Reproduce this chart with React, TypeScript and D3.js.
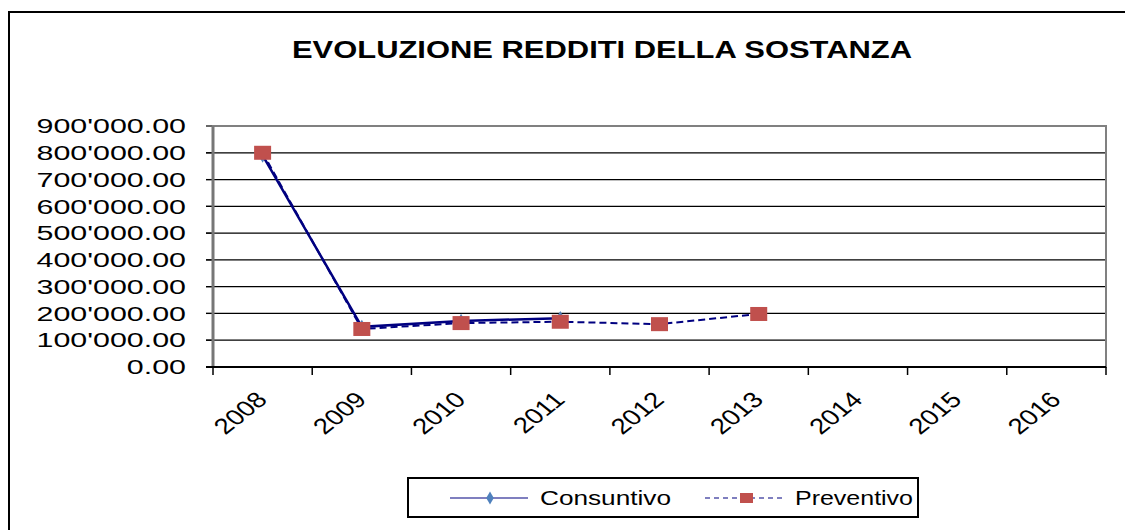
import * as d3 from "d3";

const years = ["2008", "2009", "2010", "2011", "2012", "2013", "2014", "2015", "2016"];
const consuntivo = [790000, 150000, 172000, 182000];
const preventivo = [800000, 142000, 164000, 169000, 160000, 198000];
const yTicks = [0, 100000, 200000, 300000, 400000, 500000, 600000, 700000, 800000, 900000];

const W = 1125;
const H = 530;
const font = "'Liberation Sans', Arial, sans-serif";
const navy = "#000080";

// 900'000.00 style
const fmt = (v: number) => {
  const s = d3.format(",.2f")(v);
  return s.replace(/,/g, "'");
};

export default function App() {
  const left = 213;
  const right = 1106;
  const top = 126;
  const bottom = 367;

  const x = d3.scaleBand<string>().domain(years).range([left, right]);
  const y = d3.scaleLinear().domain([0, 900000]).range([bottom, top]);
  const cx = (i: number) => (x(years[i]) as number) + x.bandwidth() / 2;

  const line = d3
    .line<number>()
    .x((_, i) => cx(i))
    .y((d) => y(d));

  const bounds = years.map((yr) => x(yr) as number).concat([right]);

  return (
    <svg
      width={W}
      height={H}
      style={{ position: "absolute", left: 0, top: 0, background: "#fff" }}
      fontFamily={font}
    >
      <rect x={0} y={0} width={W} height={H} fill="#fff" />
      {/* outer frame */}
      <rect x={9} y={12} width={W + 20} height={H + 20} fill="none" stroke="#000" strokeWidth={2} />

      {/* title */}
      <text
        x={292}
        y={58}
        fontSize={24}
        fontWeight="bold"
        textLength={620}
        lengthAdjust="spacingAndGlyphs"
      >
        EVOLUZIONE REDDITI DELLA SOSTANZA
      </text>

      {/* grid */}
      {yTicks.slice(1, -1).map((t) => (
        <line key={t} x1={206} x2={right} y1={y(t)} y2={y(t)} stroke="#000" strokeWidth={1.2} />
      ))}
      {yTicks.map((t) => (
        <line key={"t" + t} x1={206} x2={left} y1={y(t)} y2={y(t)} stroke="#000" strokeWidth={1.2} />
      ))}
      {/* plot border */}
      <rect
        x={left}
        y={top}
        width={right - left}
        height={bottom - top}
        fill="none"
        stroke="#808080"
        strokeWidth={2}
      />
      <line x1={left} x2={left} y1={top} y2={bottom} stroke="#777" strokeWidth={3} />
      <line x1={206} x2={right} y1={bottom} y2={bottom} stroke="#000" strokeWidth={2} />
      {bounds.map((b, i) => (
        <line key={"x" + i} x1={b} x2={b} y1={bottom} y2={375} stroke="#000" strokeWidth={1.5} />
      ))}

      {/* y labels */}
      {yTicks.map((t) => (
        <g key={"l" + t} transform={`translate(186,${y(t)}) scale(1.52,1)`}>
          <text textAnchor="end" dy="0.36em" fontSize={20}>
            {fmt(t)}
          </text>
        </g>
      ))}

      {/* x labels */}
      {years.map((yr, i) => (
        <g key={yr} transform={`translate(${cx(i) + 6},401) scale(1.25,1) rotate(-45)`}>
          <text textAnchor="end" fontSize={22}>
            {yr}
          </text>
        </g>
      ))}

      {/* Consuntivo */}
      <path d={line(consuntivo) || ""} fill="none" stroke={navy} strokeWidth={2.5} />
      {consuntivo.map((v, i) => (
        <path
          key={"c" + i}
          transform={`translate(${cx(i)},${y(v)})`}
          d={d3.symbol(d3.symbolDiamond, 60)() || ""}
          fill="#4f81bd"
        />
      ))}

      {/* Preventivo */}
      <path d={line(preventivo) || ""} fill="none" stroke={navy} strokeWidth={2} strokeDasharray="7,4" />
      {preventivo.map((v, i) => (
        <rect key={"p" + i} x={cx(i) - 8.5} y={y(v) - 7} width={17} height={14} fill="#c0504d" />
      ))}

      {/* legend */}
      <rect x={408} y={478} width={510} height={39} fill="#fff" stroke="#000" strokeWidth={2} />
      <line x1={450} x2={528} y1={498} y2={498} stroke={navy} strokeWidth={1.2} />
      <path
        transform="translate(490,498)"
        d={d3.symbol(d3.symbolDiamond, 50)() || ""}
        fill="#4f81bd"
      />
      <text x={540} y={505} fontSize={20} textLength={131} lengthAdjust="spacingAndGlyphs">
        Consuntivo
      </text>
      <line x1={705} x2={785} y1={498} y2={498} stroke={navy} strokeWidth={1.2} strokeDasharray="5,4" />
      <rect x={740} y={493} width={13} height={10} fill="#c0504d" />
      <text x={795} y={505} fontSize={20} textLength={118} lengthAdjust="spacingAndGlyphs">
        Preventivo
      </text>
    </svg>
  );
}
